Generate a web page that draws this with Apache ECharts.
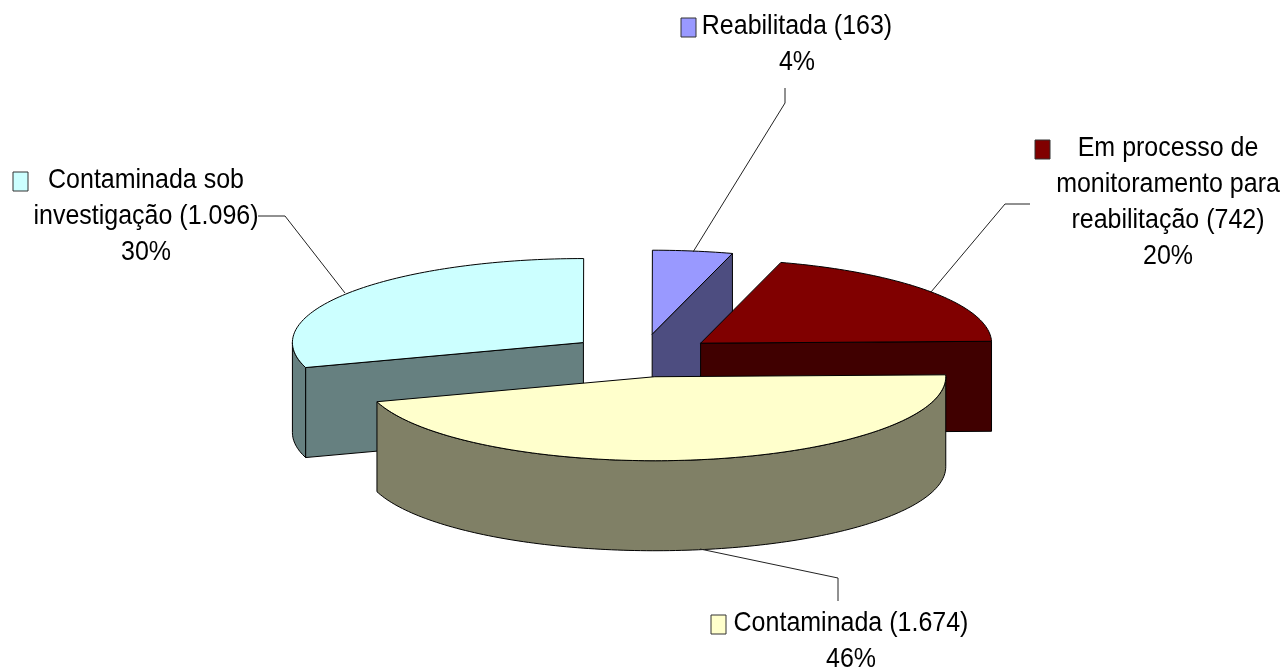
<!DOCTYPE html>
<html>
<head>
    <meta charset="utf-8">
    <title>Areas contaminadas</title>
    <script src="https://cdn.jsdelivr.net/npm/echarts@6/dist/echarts.min.js"></script>
    <style>
        html, body { margin: 0; padding: 0; background: #fff; }
        #chart { width: 1285px; height: 671px; }
    </style>
</head>
<body>
<div id="chart"></div>
<script type="text/javascript">
    // dados, na ordem em que o Excel gira a pizza (a partir das 3 horas, anti-horario)
    var categories = ['Em processo de\nmonitoramento para\nreabilitação', 'Reabilitada', 'Contaminada sob\ninvestigação', 'Contaminada'];
    var values = [742, 163, 1096, 1674];

    // cores: topo e parede de cada fatia
    var topColors = ['#800000', '#9999FF', '#CCFFFF', '#FFFFCC'];
    var wallColors = ['#400000', '#4D4D80', '#668080', '#808066'];

    // geometria da pizza 3D
    var centerX = 641, centerY = 355;
    var radiusX = 291, radiusY = 84, depth = 90, explode = 0.25;
    var startAngle = 1.3 * Math.PI / 180;
    // ordem de pintura: do fundo para a frente
    var drawOrder = [2, 1, 0, 3];
    // ajuste fino de cada fatia
    var nudgeX = [2, 1, 1, 2];
    var nudgeY = [1, 0, 0, 1];

    var total = values.reduce(function (a, b) { return a + b; }, 0);
    var slices = [];
    var acc = 0;
    values.forEach(function (v, i) {
        var a0 = startAngle + acc / total * Math.PI * 2;
        acc += v;
        var a1 = startAngle + acc / total * Math.PI * 2;
        var mid = (a0 + a1) / 2;
        slices.push({
            a0: a0, a1: a1,
            cx: centerX + explode * radiusX * Math.cos(mid) + nudgeX[i],
            cy: centerY - explode * radiusY * Math.sin(mid) + nudgeY[i]
        });
    });

    function arcPoints(s, from, to, dy) {
        var pts = [];
        var n = Math.max(2, Math.ceil((to - from) / 0.02));
        for (var k = 0; k <= n; k++) {
            var t = from + (to - from) * k / n;
            pts.push([s.cx + radiusX * Math.cos(t), s.cy - radiusY * Math.sin(t) + dy]);
        }
        return pts;
    }

    function poly(points, fill) {
        return {
            type: 'polygon',
            shape: { points: points },
            style: { fill: fill, stroke: '#000', lineWidth: 1 }
        };
    }

    function renderSlice(params, api) {
        var i = api.value(0);
        var s = slices[i];
        var children = [];
        var c = [s.cx, s.cy];
        var wall = wallColors[i];
        // paredes radiais viradas para quem olha
        function radial(a) {
            var p = [s.cx + radiusX * Math.cos(a), s.cy - radiusY * Math.sin(a)];
            children.push(poly([c, p, [p[0], p[1] + depth], [c[0], c[1] + depth]], wall));
        }
        if (Math.sin(s.a0 - Math.PI / 2) < -0.001) radial(s.a0);
        if (Math.sin(s.a1 + Math.PI / 2) < -0.001) radial(s.a1);
        // parede externa: so a metade de baixo da elipse
        var from = Math.max(s.a0, Math.PI), to = Math.min(s.a1, Math.PI * 2);
        if (to > from) {
            var upper = arcPoints(s, from, to, 0);
            var lower = arcPoints(s, from, to, depth).reverse();
            children.push(poly(upper.concat(lower), wall));
        }
        // topo
        children.push(poly([c].concat(arcPoints(s, s.a0, s.a1, 0)), topColors[i]));
        return { type: 'group', children: children };
    }

    function fmt(v) {
        return String(v).replace(/\B(?=(\d{3})+$)/, '.');
    }

    // rotulos: caixa de texto e legenda de cada fatia
    var labelX = [1168, 797, 146, 851];
    var labelY = [148, 26, 180, 623];
    var keyX = [1035, 681, 13, 711];
    var keyY = [140, 18, 172, 615];
    var lineHeight = 36;
    var leaders = [
        [[1030, 204], [1005, 204], [931, 292]],
        [[785, 88], [785, 103], [693, 252]],
        [[258, 216], [285, 216], [345, 293]],
        [[838, 601], [838, 578], [700, 549]]
    ];

    var graphics = [];
    values.forEach(function (v, i) {
        var lines = categories[i].split('\n');
        lines[lines.length - 1] += ' (' + fmt(v) + ')';
        lines.push(Math.round(v / total * 100) + '%');
        lines.forEach(function (text, k) {
            graphics.push({
                type: 'text',
                x: labelX[i], y: labelY[i] + k * lineHeight,
                scaleY: 1.1,
                style: {
                    text: text, fill: '#000', align: 'center', verticalAlign: 'middle',
                    font: '25px "Liberation Sans", Arial, sans-serif'
                }
            });
        });
        graphics.push({
            type: 'rect',
            shape: { x: keyX[i], y: keyY[i], width: 15, height: 19 },
            style: { fill: topColors[i], stroke: '#333', lineWidth: 1 }
        });
        graphics.push({
            type: 'polyline',
            shape: { points: leaders[i] },
            style: { stroke: '#222', lineWidth: 1, fill: null },
            z: 10
        });
    });

    var chart = echarts.init(document.getElementById('chart'), null, { renderer: 'canvas' });
    chart.setOption({
        backgroundColor: '#fff',
        animation: false,
        graphic: graphics,
        series: [{
            type: 'custom',
            coordinateSystem: 'none',
            renderItem: renderSlice,
            encode: { value: 0 },
            data: drawOrder.map(function (i) { return [i, values[i]]; }),
            silent: true
        }]
    });
</script>
</body>
</html>
